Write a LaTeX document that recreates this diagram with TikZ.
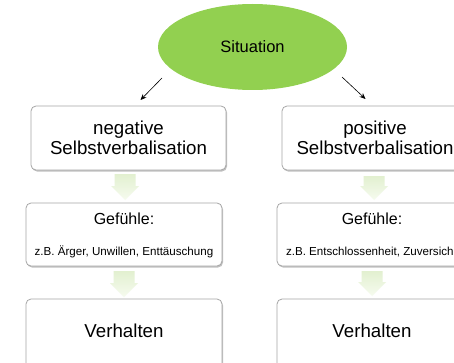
\documentclass[tikz,border=0pt]{standalone}
\usepackage{fontspec}
\setmainfont{Liberation Sans}
\usetikzlibrary{shapes.geometric,arrows.meta,shadows}

\definecolor{sitgreen}{HTML}{92D050}
\definecolor{boxline}{HTML}{A6A6A6}
\definecolor{arrtop}{HTML}{E2F0D0}
\definecolor{arrbot}{HTML}{F6FBEF}

% hollow-looking block arrow: centre x, top y, tip y
\newcommand\blockarr[3]{%
  \shade[top color=arrtop, bottom color=arrbot]
    (#1-10.5,#2) -- (#1+10.5,#2) -- (#1+10.5,#3+14) -- (#1+14,#3+14)
    -- (#1,#3) -- (#1-14,#3+14) -- (#1-10.5,#3+14) -- cycle;}

\tikzset{
  every node/.style={inner sep=0pt, outer sep=0pt},
  situation/.style={ellipse, fill=sitgreen, minimum width=189pt,
    minimum height=86pt, font=\fontsize{16.5}{18}\selectfont},
  stagebox/.style={draw=boxline, line width=0.8pt, fill=white,
    rounded corners=5pt, align=center,
    drop shadow={shadow xshift=1pt, shadow yshift=-1.5pt,
      opacity=0.35, fill=black!70}},
  bigtext/.style={font=\fontsize{18.7}{20}\selectfont},
  headtext/.style={font=\fontsize{16}{18}\selectfont},
  smalltext/.style={font=\fontsize{11.6}{13}\selectfont},
  link/.style={line width=0.6pt, -{Stealth[length=6pt,width=5pt]}}
}

\begin{document}
\begin{tikzpicture}[x=1pt,y=1pt]
  \clip (0,0) rectangle (454,362);
  \fill[white] (0,0) rectangle (454,362);

  % trigger
  \node[situation] (sit) at (252.5,315) {Situation};
  \coordinate (l0) at (162,284);
  \coordinate (l1) at (140.5,262);
  \coordinate (r0) at (342,285);
  \coordinate (r1) at (365.5,263);
  \draw[link] (l0) -- (l1);
  \draw[link] (r0) -- (r1);

  % negative chain
  \node[stagebox, bigtext, minimum width=195pt, minimum height=64pt]
    (neg) at (128.5,224) {negative\\Selbstverbalisation};
  \node[stagebox, minimum width=196pt, minimum height=63pt]
    (negf) at (124,127.5) {};
  \node[headtext, anchor=base] (negfh) at ([yshift=-21pt]negf.north) {Gefühle:};
  \node[smalltext, anchor=base] (negfx) at ([yshift=11pt]negf.south)
    {z.B. Ärger, Unwillen, Enttäuschung};
  \node[stagebox, bigtext, minimum width=196pt, minimum height=69pt,
    text height=13.5pt, text depth=5pt] (negv) at (124,28.5) {Verhalten};

  % positive chain
  \node[stagebox, bigtext, minimum width=186pt, minimum height=64pt]
    (pos) at (375,224) {positive\\Selbstverbalisation};
  \node[stagebox, minimum width=190pt, minimum height=63pt]
    (posf) at (372,127.5) {};
  \node[headtext, anchor=base] (posfh) at ([yshift=-21pt]posf.north) {Gefühle:};
  \node[smalltext, anchor=base west] (posfx) at ([xshift=9pt, yshift=11pt]posf.south west)
    {z.B. Entschlossenheit, Zuversich};
  \node[stagebox, bigtext, minimum width=190pt, minimum height=69pt,
    text height=13.5pt, text depth=5pt] (posv) at (372,28.5) {Verhalten};

  % block arrows between stages
  \blockarr{125}{188}{162}
  \blockarr{124}{91}{65}
  \blockarr{374}{186}{162}
  \blockarr{372}{91}{66}
\end{tikzpicture}
\end{document}
